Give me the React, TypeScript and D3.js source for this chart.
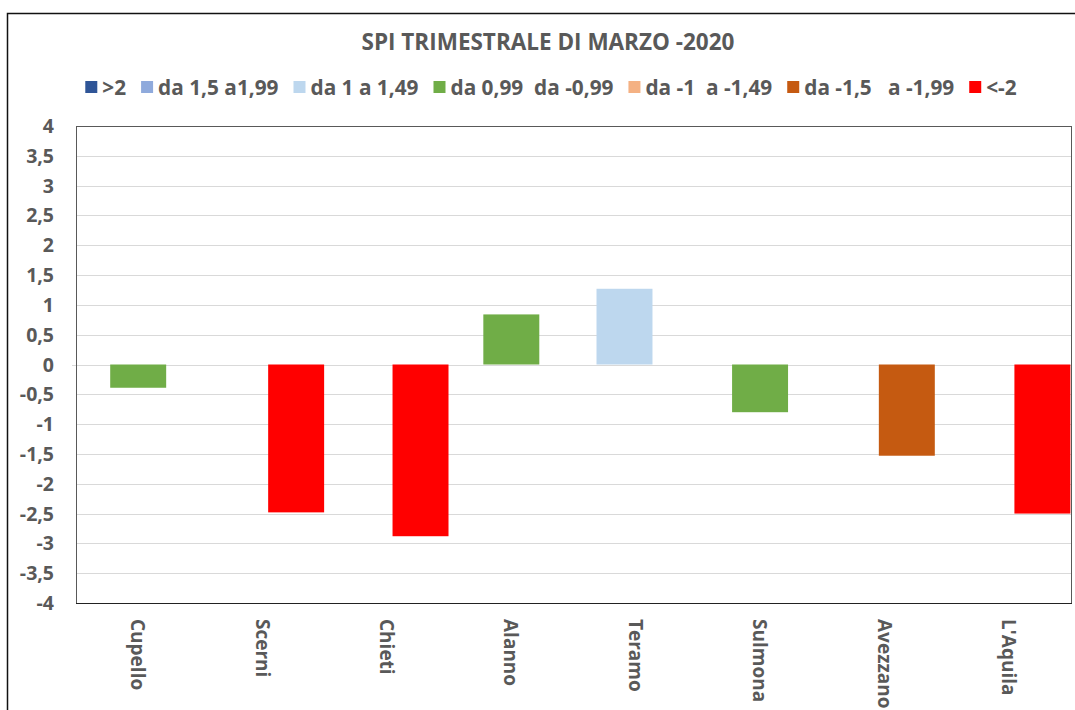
import React, { useEffect, useRef } from "react";
import * as d3 from "d3";

// stations (categories) and SPI values
const stations = ["Cupello", "Scerni", "Chieti", "Alanno", "Teramo", "Sulmona", "Avezzano", "L'Aquila"];
const spiValues = [-0.39, -2.48, -2.88, 0.84, 1.27, -0.8, -1.53, -2.5];

// legend classes (each is its own Excel series)
const classes = [">2", "da 1,5 a1,99", "da 1 a 1,49", "da 0,99  da -0,99", "da -1  a -1,49", "da -1,5   a -1,99", "<-2"];
const classColors = ["#2F5597", "#8FAADC", "#BDD7EE", "#70AD47", "#F4B183", "#C55A11", "#FF0000"];
// which class each station falls into
const stationClass = ["da 0,99  da -0,99", "<-2", "<-2", "da 0,99  da -0,99", "da 1 a 1,49", "da 0,99  da -0,99", "da -1,5   a -1,99", "<-2"];

const yTicks = [4, 3.5, 3, 2.5, 2, 1.5, 1, 0.5, 0, -0.5, -1, -1.5, -2, -2.5, -3, -3.5, -4];

const FONT = "'Open Sans', sans-serif";
const TEXT_COLOR = "#595959";

export default function App() {
  const svgRef = useRef<SVGSVGElement>(null);

  useEffect(() => {
    const W = 1075;
    const H = 710;
    const plot = { left: 76, top: 126, right: 1071, bottom: 603 };

    const svg = d3.select(svgRef.current);
    svg.selectAll("*").remove();
    svg.attr("width", W).attr("height", H);

    svg.append("rect").attr("width", W).attr("height", H).attr("fill", "#fff");

    // chart border (runs off the right and bottom edges)
    svg.append("rect")
      .attr("x", 7.5).attr("y", 13.5)
      .attr("width", W + 50).attr("height", H + 50)
      .attr("fill", "none")
      .attr("stroke", "#111")
      .attr("stroke-width", 1.5);

    const data = stations.map((s, i) => ({ station: s, value: spiValues[i], cls: stationClass[i] }));

    const x = d3.scaleBand().domain(stations).range([plot.left, plot.right]).padding(0);
    const y = d3.scaleLinear().domain([-4, 4]).range([plot.bottom, plot.top]);
    const color = d3.scaleOrdinal<string, string>().domain(classes).range(classColors);

    // series slots inside each category (heavily overlapped, like Excel)
    const spread = x.bandwidth() * 0.27;
    const slot = d3.scalePoint<string>().domain(classes).range([-spread, spread]);
    const barW = x.bandwidth() * 0.45;

    // gridlines incl. zero line
    svg.append("g")
      .selectAll("line")
      .data(yTicks.filter(t => t !== 4 && t !== -4))
      .join("line")
      .attr("x1", d => (d === 0 ? plot.left - 4 : plot.left)).attr("x2", plot.right)
      .attr("y1", d => Math.round(y(d)) + 0.5).attr("y2", d => Math.round(y(d)) + 0.5)
      .attr("stroke", "#D9D9D9")
      .attr("stroke-width", 1);

    // bars
    svg.append("g")
      .selectAll("rect")
      .data(data)
      .join("rect")
      .attr("x", d => (x(d.station) as number) + x.bandwidth() / 2 + (slot(d.cls) as number) - barW / 2)
      .attr("width", barW)
      .attr("y", d => y(Math.max(0, d.value)))
      .attr("height", d => Math.abs(y(d.value) - y(0)))
      .attr("fill", d => color(d.cls));

    // plot area frame
    svg.append("rect")
      .attr("x", plot.left + 0.5).attr("y", plot.top + 0.5)
      .attr("width", plot.right - plot.left).attr("height", plot.bottom - plot.top)
      .attr("fill", "none")
      .attr("stroke", "#595959")
      .attr("stroke-width", 1);
    svg.append("line")
      .attr("x1", plot.left).attr("x2", plot.right + 1)
      .attr("y1", plot.bottom + 0.5).attr("y2", plot.bottom + 0.5)
      .attr("stroke", "#222")
      .attr("stroke-width", 1.2);

    // y axis labels
    const fmt = (v: number) => String(v).replace(".", ",");
    svg.append("g")
      .selectAll("text")
      .data(yTicks)
      .join("text")
      .attr("x", 54)
      .attr("y", d => y(d))
      .attr("dy", "0.36em")
      .attr("text-anchor", "end")
      .style("font-family", FONT)
      .style("font-size", "19.5px")
      .style("font-weight", "bold")
      .attr("fill", TEXT_COLOR)
      .text(d => fmt(d));

    // x axis labels, rotated
    svg.append("g")
      .selectAll("text")
      .data(stations)
      .join("text")
      .attr("transform", d => `translate(${(x(d) as number) + x.bandwidth() / 2},${plot.bottom + 16}) rotate(90)`)
      .attr("dy", "0.36em")
      .attr("text-anchor", "start")
      .style("font-family", FONT)
      .style("font-size", "19px")
      .style("font-weight", "bold")
      .attr("fill", TEXT_COLOR)
      .text(d => d);

    // title
    svg.append("text")
      .attr("x", 548)
      .attr("y", 50)
      .attr("text-anchor", "middle")
      .style("font-family", FONT)
      .style("font-size", "22.5px")
      .style("font-weight", "bold")
      .attr("fill", TEXT_COLOR)
      .text("SPI TRIMESTRALE DI MARZO -2020");

    // legend, flowed by measured text width and centred
    const legend = svg.append("g");
    const items = legend.selectAll("g")
      .data(classes)
      .join("g");
    items.append("rect")
      .attr("width", 12).attr("height", 12)
      .attr("y", -6)
      .attr("fill", d => color(d));
    const labels = items.append("text")
      .attr("x", 17)
      .attr("dy", "0.36em")
      .style("font-family", FONT)
      .style("font-size", "20.8px")
      .style("font-weight", "bold")
      .style("white-space", "pre")
      .attr("fill", TEXT_COLOR)
      .text(d => d);
    const gap = 15;
    let cursor = 0;
    labels.each(function () {
      const w = (this as SVGTextElement).getComputedTextLength();
      const g = d3.select((this as SVGTextElement).parentNode as SVGGElement);
      g.attr("transform", `translate(${cursor},0)`);
      cursor += 17 + w + gap;
    });
    const total = cursor - gap;
    legend.attr("transform", `translate(${(78 + 1024) / 2 - total / 2},87)`);
  }, []);

  return (
    <div style={{ position: "absolute", left: 0, top: 0 }}>
      <svg ref={svgRef} style={{ display: "block" }}></svg>
    </div>
  );
}
